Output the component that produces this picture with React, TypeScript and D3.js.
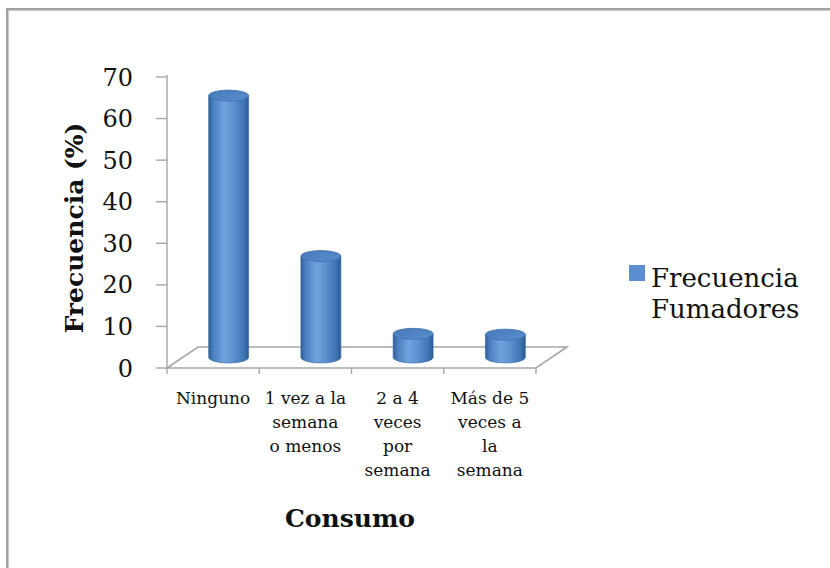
import React from "react";
import * as d3 from "d3";

// Smoking frequency by consumption level (%)
const categories: string[][] = [
  ["Ninguno"],
  ["1 vez a la", "semana", "o menos"],
  ["2 a 4", "veces", "por", "semana"],
  ["Más de 5", "veces a", "la", "semana"],
];
const frecuencia: number[] = [63, 24.4, 5.7, 5.5];
const yTicks: number[] = [0, 10, 20, 30, 40, 50, 60, 70];
const seriesName: string[] = ["Frecuencia", "Fumadores"];

const W = 830;
const H = 568;
const serif = "'DejaVu Serif', 'Liberation Serif', serif";

export default function App() {
  // front plane of the 3D floor
  const x0 = 167;
  const x1 = 536;
  const yBase = 368;
  const depthX = 31;
  const depthY = 21;

  const x = d3
    .scaleBand<number>()
    .domain(categories.map((_, i) => i))
    .range([x0, x1])
    .paddingInner(0)
    .paddingOuter(0);
  const y = d3.scaleLinear().domain([0, 70]).range([yBase, 77]);

  const barW = 40;
  const ry = 5.5;
  const planeDx = depthX / 2;
  const planeDy = depthY / 2;

  const floor = [
    [x0, yBase],
    [x1, yBase],
    [x1 + depthX, yBase - depthY],
    [x0 + depthX, yBase - depthY],
  ];
  const floorPath = d3.line()(floor as [number, number][]) + "Z";

  return (
    <svg
      width={W}
      height={H}
      style={{ position: "absolute", left: 0, top: 0, background: "#fff" }}
    >
      <defs>
        <linearGradient id="cylSide" x1="0" x2="1" y1="0" y2="0">
          <stop offset="0" stopColor="#2f5f98" />
          <stop offset="0.12" stopColor="#4c80c0" />
          <stop offset="0.38" stopColor="#6fa3de" />
          <stop offset="0.6" stopColor="#5e93d2" />
          <stop offset="0.88" stopColor="#3f73b2" />
          <stop offset="1" stopColor="#2c5a92" />
        </linearGradient>
        <linearGradient id="cylTop" x1="0" x2="1" y1="0" y2="1">
          <stop offset="0" stopColor="#4679b9" />
          <stop offset="1" stopColor="#5a8ecf" />
        </linearGradient>
      </defs>

      {/* outer frame */}
      <rect x={0} y={0} width={W} height={H} fill="#fff" />
      <rect
        x={7}
        y={9}
        width={W + 20}
        height={H + 20}
        fill="none"
        stroke="#8c8c8c"
        strokeWidth={1.6}
      />
      <rect
        x={8.6}
        y={10.6}
        width={W + 20}
        height={H + 20}
        fill="none"
        stroke="#c8c8c8"
        strokeWidth={1}
      />

      {/* floor */}
      <path d={floorPath} fill="#fff" stroke="#a6a6a6" strokeWidth={1.6} />

      {/* category ticks */}
      {[...categories.map((_, i) => x(i)!), x1].map((t, i) => (
        <line
          key={"ct" + i}
          x1={t}
          x2={t}
          y1={yBase}
          y2={yBase + 6}
          stroke="#a6a6a6"
          strokeWidth={1.4}
        />
      ))}

      {/* value axis */}
      <line x1={x0} x2={x0} y1={75} y2={yBase} stroke="#a6a6a6" strokeWidth={1.4} />
      {yTicks.map((t) => (
        <g key={"yt" + t}>
          <line
            x1={x0 - 11}
            x2={x0}
            y1={y(t)}
            y2={y(t)}
            stroke="#a6a6a6"
            strokeWidth={1.4}
          />
          <text
            x={133}
            y={y(t)}
            dy="0.36em"
            textAnchor="end"
            fontFamily={serif}
            fontSize={24}
            fill="#111"
          >
            {t}
          </text>
        </g>
      ))}

      {/* cylinders */}
      {frecuencia.map((v, i) => {
        const cx = x(i)! + x.bandwidth() / 2 + planeDx;
        const left = cx - barW / 2;
        const right = cx + barW / 2;
        const yb = y(0) - planeDy;
        const yt = y(v) - planeDy;
        const side = `M${left},${yt} L${left},${yb} A${barW / 2},${ry} 0 0 0 ${right},${yb} L${right},${yt} Z`;
        return (
          <g key={"bar" + i}>
            <path d={side} fill="url(#cylSide)" stroke="#3b6aa3" strokeWidth={0.6} />
            <ellipse
              cx={cx}
              cy={yt}
              rx={barW / 2}
              ry={ry}
              fill="url(#cylTop)"
              stroke="#3e6ea8"
              strokeWidth={0.8}
            />
          </g>
        );
      })}

      {/* category labels */}
      {categories.map((lines, i) => (
        <text
          key={"cl" + i}
          fontFamily={serif}
          fontSize={17}
          fill="#111"
          textAnchor="middle"
        >
          {lines.map((ln, j) => (
            <tspan key={j} x={x(i)! + x.bandwidth() / 2} y={404 + j * 24}>
              {ln}
            </tspan>
          ))}
        </text>
      ))}

      {/* axis titles */}
      <text
        transform={`translate(83,228) rotate(-90)`}
        textAnchor="middle"
        fontFamily={serif}
        fontWeight="bold"
        fontSize={25}
        fill="#111"
      >
        Frecuencia (%)
      </text>
      <text
        x={350}
        y={527}
        textAnchor="middle"
        fontFamily={serif}
        fontWeight="bold"
        fontSize={25}
        fill="#111"
      >
        Consumo
      </text>

      {/* legend */}
      <rect x={629} y={265} width={16} height={16} fill="#5a8ecf" />
      <text fontFamily={serif} fontSize={26} fill="#111">
        {seriesName.map((s, j) => (
          <tspan key={j} x={651} y={287 + j * 31}>
            {s}
          </tspan>
        ))}
      </text>
    </svg>
  );
}
